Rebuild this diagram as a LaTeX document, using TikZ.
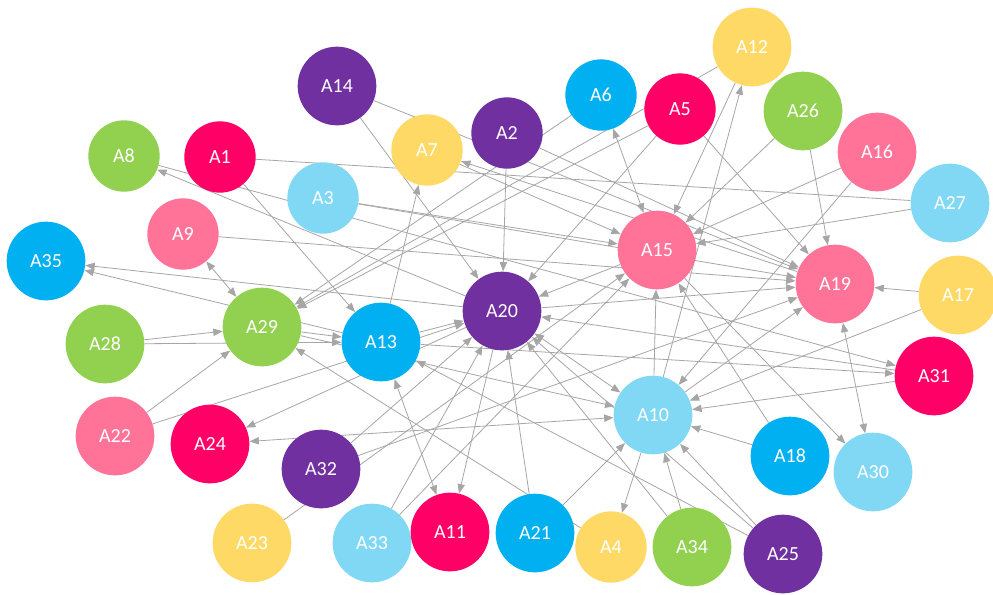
\documentclass[tikz,border=0pt]{standalone}
\usepackage{fontspec}
\setsansfont{Carlito}
\usetikzlibrary{arrows.meta, positioning, backgrounds}

\definecolor{agreen}{HTML}{92D050}
\definecolor{ared}{HTML}{FF0066}
\definecolor{apurple}{HTML}{7030A0}
\definecolor{ayellow}{HTML}{FFD966}
\definecolor{acyan}{HTML}{80D8F5}
\definecolor{ablue}{HTML}{00B0F0}
\definecolor{apink}{HTML}{FF7398}
\definecolor{linkgray}{HTML}{A6A6A6}

\begin{document}
\begin{tikzpicture}[x=0.75pt, y=-0.75pt,
  actor/.style={circle, minimum size=59pt, inner sep=0pt, text=white, font=\sffamily\fontsize{15}{18}\selectfont},
  smallactor/.style={actor, minimum size=53.5pt},
  link/.style={draw=linkgray, line width=0.6pt, -{Triangle[length=7pt, width=5.5pt]}},
  twoway/.style={link, {Triangle[length=7pt, width=5.5pt]}-{Triangle[length=7pt, width=5.5pt]}},
  bare/.style={draw=linkgray, line width=0.6pt}]
\useasboundingbox (0,0) rectangle (993,594);

% top row
\node[smallactor, fill=agreen] (a8) at (124,156) {A8};
\node[smallactor, fill=ared] (a1) at (220,157) {A1};
\node[actor, fill=apurple] (a14) at (337,86) {A14};
\node[smallactor, fill=ayellow] (a7) at (427,150) {A7};
\node[smallactor, fill=acyan] (a3) at (323,198) {A3};
\node[smallactor, fill=apurple] (a2) at (507,133) {A2};
\node[smallactor, fill=ablue] (a6) at (601,95) {A6};
\node[smallactor, fill=ared] (a5) at (680,109) {A5};
\node[actor, fill=ayellow] (a12) at (752,47) {A12};
\node[actor, fill=agreen] (a26) at (803,111) {A26};
\node[actor, fill=apink] (a16) at (877,152) {A16};
\node[actor, fill=acyan] (a27) at (950,203) {A27};

% middle
\node[actor, fill=ablue] (a35) at (46,261) {A35};
\node[smallactor, fill=apink] (a9) at (183,234) {A9};
\node[actor, fill=agreen] (a28) at (105,344) {A28};
\node[actor, fill=agreen] (a29) at (262,327) {A29};
\node[actor, fill=ablue] (a13) at (381,342) {A13};
\node[actor, fill=apurple] (a20) at (502,311) {A20};
\node[actor, fill=apink] (a15) at (657,250) {A15};
\node[actor, fill=apink] (a19) at (835,284) {A19};
\node[actor, fill=ayellow] (a17) at (958,295) {A17};
\node[actor, fill=ared] (a31) at (934,376) {A31};
\node[actor, fill=acyan] (a10) at (653,415) {A10};

% bottom
\node[actor, fill=apink] (a22) at (115,436) {A22};
\node[actor, fill=ared] (a24) at (210,444) {A24};
\node[actor, fill=apurple] (a32) at (321,469) {A32};
\node[actor, fill=ayellow] (a23) at (252,543) {A23};
\node[actor, fill=acyan] (a33) at (372,543) {A33};
\node[actor, fill=ared] (a11) at (450,532) {A11};
\node[actor, fill=ablue] (a21) at (535,533) {A21};
\node[smallactor, fill=ayellow] (a4) at (611,547) {A4};
\node[actor, fill=agreen] (a34) at (692,547) {A34};
\node[actor, fill=ablue] (a18) at (790,456) {A18};
\node[actor, fill=acyan] (a30) at (873,472) {A30};
\node[actor, fill=apurple] (a25) at (783,554) {A25};

\begin{scope}[on background layer]
\fill[white] (0,0) rectangle (993,594);
\foreach \s/\t in {a14/a20, a14/a19, a13/a7, a1/a13, a20/a8, a8/a31, a9/a19,
    a13/a35, a20/a35, a28/a29, a28/a13, a22/a29, a22/a20, a20/a24, a18/a10,
    a31/a10, a18/a15, a34/a10, a34/a20, a25/a10, a25/a20, a4/a29, a12/a29,
    a5/a29, a6/a29, a12/a15, a10/a12, a5/a19, a2/a20, a2/a19, a19/a7, a3/a15,
    a3/a19, a29/a13, a31/a20, a26/a15, a26/a19, a16/a15, a16/a10, a27/a15,
    a17/a19, a17/a10, a15/a30, a10/a19, a32/a19, a21/a20, a21/a10, a10/a4,
    a20/a11, a33/a20, a33/a15, a32/a20, a23/a15, a29/a10, a25/a13, a13/a20,
    a15/a20, a5/a20, a13/a31, a20/a19, a7/a15, a10/a15}
  \draw[link] (\s) -- (\t);
\foreach \s/\t in {a9/a29, a10/a24, a20/a10, a6/a15, a19/a30, a13/a11}
  \draw[twoway] (\s) -- (\t);
\draw[bare] (a1) -- (a27);
\end{scope}
\end{tikzpicture}
\end{document}
